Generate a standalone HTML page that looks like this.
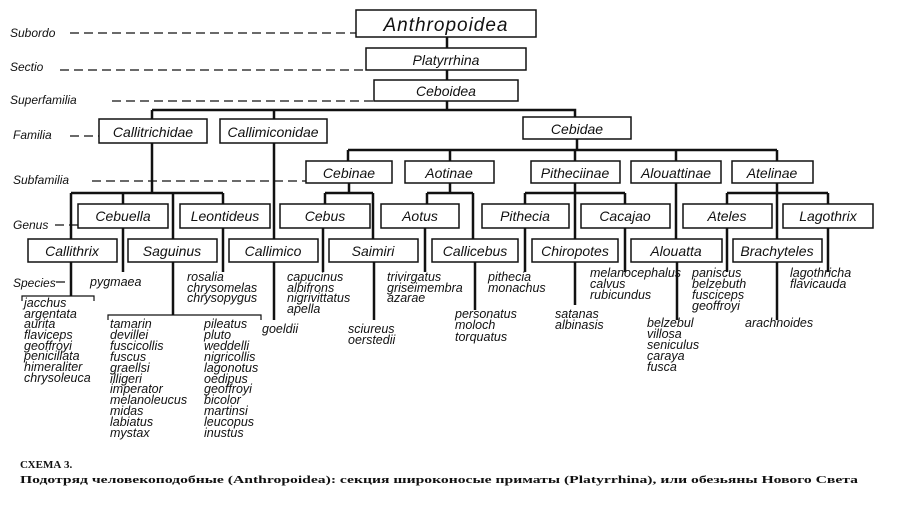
<!DOCTYPE html>
<html><head><meta charset="utf-8"><style>
html,body{margin:0;padding:0;background:#fff;width:900px;height:513px;overflow:hidden}
svg text{font-family:"Liberation Sans",sans-serif;font-style:italic;fill:#111}
.b{font-size:14px}
.s{font-size:12.5px}
.r{font-size:12px}
</style></head><body>
<svg width="900" height="513" viewBox="0 0 900 513" xmlns="http://www.w3.org/2000/svg">
<g stroke="#111" stroke-width="1.5" fill="none">
<rect x="356" y="10" width="180" height="27"/>
<rect x="366" y="48" width="160" height="22"/>
<rect x="374" y="80" width="144" height="21"/>
<rect x="99" y="119" width="108" height="24"/>
<rect x="220" y="119" width="107" height="24"/>
<rect x="523" y="117" width="108" height="22"/>
<rect x="306" y="161" width="86" height="22"/>
<rect x="405" y="161" width="89" height="22"/>
<rect x="531" y="161" width="89" height="22"/>
<rect x="631" y="161" width="90" height="22"/>
<rect x="732" y="161" width="81" height="22"/>
<rect x="78" y="204" width="90" height="24"/>
<rect x="180" y="204" width="90" height="24"/>
<rect x="280" y="204" width="90" height="24"/>
<rect x="381" y="204" width="78" height="24"/>
<rect x="482" y="204" width="87" height="24"/>
<rect x="581" y="204" width="89" height="24"/>
<rect x="683" y="204" width="89" height="24"/>
<rect x="783" y="204" width="90" height="24"/>
<rect x="28" y="239" width="89" height="23"/>
<rect x="128" y="239" width="89" height="23"/>
<rect x="229" y="239" width="89" height="23"/>
<rect x="329" y="239" width="89" height="23"/>
<rect x="432" y="239" width="86" height="23"/>
<rect x="532" y="239" width="86" height="23"/>
<rect x="631" y="239" width="91" height="23"/>
<rect x="733" y="239" width="89" height="23"/>
</g>
<g stroke="#111" stroke-width="2.5" fill="none">
<path d="M447 37V48M447 70V80M447 101V110M152 110H575V117M152 110V119M274 110V119"/>
<path d="M577 139V150M348 150H777M348 150V161M450 150V161M575 150V161M676 150V161M777 150V161"/>
<path d="M152 143V193M71 193H223M71 193V239M123 193V204M173 193V239M223 193V204"/>
<path d="M71 262V296M123 228V272M173 262V315M223 228V272"/>
<path d="M274 143V239M274 262V320"/>
<path d="M349 183V193M325 193H373M325 193V204M373 193V239M323 228V272M374 262V320"/>
<path d="M450 183V193M427 193H473M427 193V204M473 193V239M425 228V272M475 262V310"/>
<path d="M575 183V193M525 193H625M525 193V204M575 193V239M625 193V204M525 228V272M575 262V305M625 228V272"/>
<path d="M676 183V239M677 262V320"/>
<path d="M777 183V193M727 193H828M727 193V204M777 193V239M828 193V204M727 228V272M777 262V320M828 228V272"/>
</g>
<g stroke="#111" stroke-width="1.2" fill="none">
<path d="M22 301V296H94V301M108 320V315H261V320"/>
</g>
<g stroke="#111" stroke-width="1.3" stroke-dasharray="9,5" fill="none">
<path d="M70 33H356M60 70H366M112 101H374M70 136H99M92 181H306M55 225H78M56 282H72"/>
</g>
<text class="r" x="10" y="37">Subordo</text>
<text class="r" x="10" y="71">Sectio</text>
<text class="r" x="10" y="104">Superfamilia</text>
<text class="r" x="13" y="139">Familia</text>
<text class="r" x="13" y="184">Subfamilia</text>
<text class="r" x="13" y="229">Genus</text>
<text class="r" x="13" y="287">Species</text>
<text x="446" y="31" font-size="19" text-anchor="middle" letter-spacing="1">Anthropoidea</text>
<g class="b" text-anchor="middle">
<text x="446" y="65">Platyrrhina</text>
<text x="446" y="96">Ceboidea</text>
<text x="153" y="137">Callitrichidae</text>
<text x="273" y="137">Callimiconidae</text>
<text x="577" y="134">Cebidae</text>
<text x="349" y="178">Cebinae</text>
<text x="449" y="178">Aotinae</text>
<text x="575" y="178">Pitheciinae</text>
<text x="676" y="178">Alouattinae</text>
<text x="772" y="178">Atelinae</text>
<text x="123" y="221">Cebuella</text>
<text x="225" y="221">Leontideus</text>
<text x="325" y="221">Cebus</text>
<text x="420" y="221">Aotus</text>
<text x="525" y="221">Pithecia</text>
<text x="625" y="221">Cacajao</text>
<text x="727" y="221">Ateles</text>
<text x="828" y="221">Lagothrix</text>
<text x="72" y="256">Callithrix</text>
<text x="172" y="256">Saguinus</text>
<text x="273" y="256">Callimico</text>
<text x="373" y="256">Saimiri</text>
<text x="475" y="256">Callicebus</text>
<text x="575" y="256">Chiropotes</text>
<text x="676" y="256">Alouatta</text>
<text x="777" y="256">Brachyteles</text>
</g>
<g class="s">
<text x="90" y="286">pygmaea</text>
<text x="24" y="307">jacchus</text><text x="24" y="318">argentata</text><text x="24" y="328">aurita</text><text x="24" y="339">flaviceps</text><text x="24" y="350">geoffroyi</text><text x="24" y="360">penicillata</text><text x="24" y="371">himeraliter</text><text x="24" y="382">chrysoleuca</text>
<text x="187" y="281">rosalia</text><text x="187" y="292">chrysomelas</text><text x="187" y="302">chrysopygus</text>
<text x="110" y="328">tamarin</text><text x="110" y="339">devillei</text><text x="110" y="350">fuscicollis</text><text x="110" y="361">fuscus</text><text x="110" y="372">graellsi</text><text x="110" y="383">illigeri</text><text x="110" y="393">imperator</text><text x="110" y="404">melanoleucus</text><text x="110" y="415">midas</text><text x="110" y="426">labiatus</text><text x="110" y="437">mystax</text>
<text x="204" y="328">pileatus</text><text x="204" y="339">pluto</text><text x="204" y="350">weddelli</text><text x="204" y="361">nigricollis</text><text x="204" y="372">lagonotus</text><text x="204" y="383">oedipus</text><text x="204" y="393">geoffroyi</text><text x="204" y="404">bicolor</text><text x="204" y="415">martinsi</text><text x="204" y="426">leucopus</text><text x="204" y="437">inustus</text>
<text x="262" y="333">goeldii</text>
<text x="287" y="281">capucinus</text><text x="287" y="292">albifrons</text><text x="287" y="302">nigrivittatus</text><text x="287" y="313">apella</text>
<text x="348" y="333">sciureus</text><text x="348" y="344">oerstedii</text>
<text x="387" y="281">trivirgatus</text><text x="387" y="292">griseimembra</text><text x="387" y="302">azarae</text>
<text x="455" y="318">personatus</text><text x="455" y="329">moloch</text><text x="455" y="341">torquatus</text>
<text x="488" y="281">pithecia</text><text x="488" y="292">monachus</text>
<text x="555" y="318">satanas</text><text x="555" y="329">albinasis</text>
<text x="590" y="277">melanocephalus</text><text x="590" y="288">calvus</text><text x="590" y="299">rubicundus</text>
<text x="647" y="327">belzebul</text><text x="647" y="338">villosa</text><text x="647" y="349">seniculus</text><text x="647" y="360">caraya</text><text x="647" y="371">fusca</text>
<text x="692" y="277">paniscus</text><text x="692" y="288">belzebuth</text><text x="692" y="299">fusciceps</text><text x="692" y="310">geoffroyi</text>
<text x="745" y="327">arachnoides</text>
<text x="790" y="277">lagothricha</text><text x="790" y="288">flavicauda</text>
</g>
<text x="20" y="468" style="font-family:'Liberation Serif',serif;font-style:normal;font-weight:bold;font-size:11px">СХЕМА 3.</text>
<text x="20" y="483" textLength="838" lengthAdjust="spacingAndGlyphs" style="font-family:'Liberation Serif',serif;font-style:normal;font-weight:bold;font-size:11px">Подотряд человекоподобные (Anthropoidea): секция широконосые приматы (Platyrrhina), или обезьяны Нового Света</text>
</svg>
</body></html>
